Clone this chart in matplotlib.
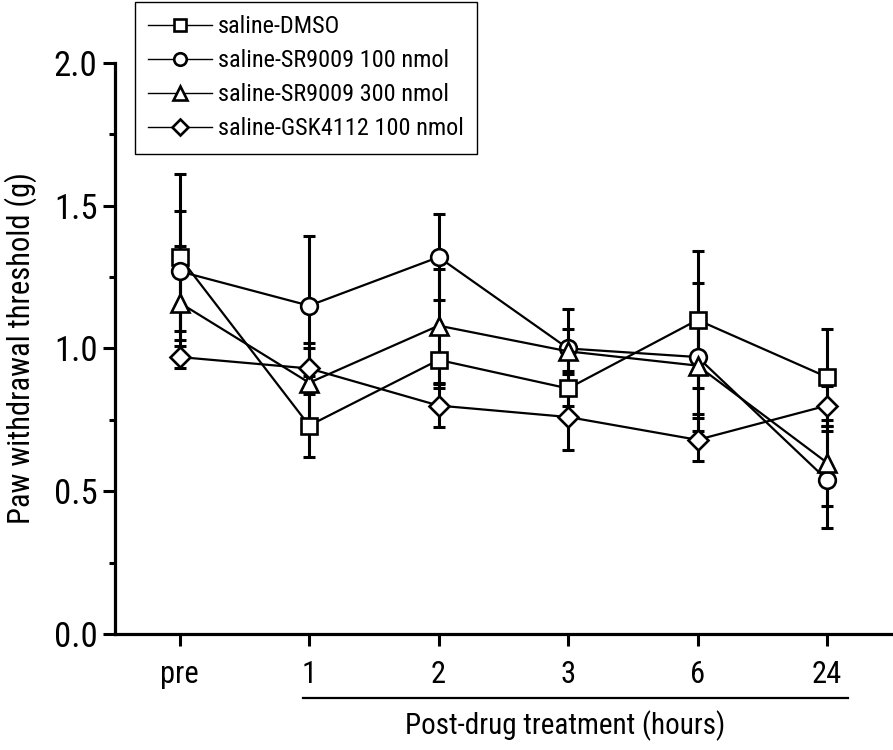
import matplotlib.pyplot as plt
from matplotlib import font_manager
from matplotlib.ticker import MultipleLocator
import matplotlib.transforms as mtransforms

# the original uses a condensed Arial-like face; fall back to a smaller Liberation Sans
installed = {f.name for f in font_manager.fontManager.ttflist}
condensed = [n for n in ["Liberation Sans Narrow", "Roboto Condensed", "DejaVu Sans Condensed"]
             if n in installed]
if condensed:
    plt.rcParams["font.family"] = [condensed[0], "DejaVu Sans"]
    fs = 1.0
else:
    plt.rcParams["font.family"] = ["Liberation Sans", "DejaVu Sans"]
    fs = 0.82

# %%
timepoints = ["pre", "1", "2", "3", "6", "24"]
groups = [
    "saline-DMSO",
    "saline-SR9009 100 nmol",
    "saline-SR9009 300 nmol",
    "saline-GSK4112 100 nmol",
]

dmso_mean = [1.32, 0.73, 0.96, 0.86, 1.10, 0.90]
dmso_err = [0.29, 0.11, 0.10, 0.06, 0.24, 0.17]
sr100_mean = [1.27, 1.15, 1.32, 1.00, 0.97, 0.54]
sr100_err = [0.21, 0.245, 0.15, 0.14, 0.26, 0.17]
sr300_mean = [1.16, 0.88, 1.08, 0.99, 0.94, 0.60]
sr300_err = [0.20, 0.14, 0.20, 0.08, 0.17, 0.15]
gsk_mean = [0.97, 0.93, 0.80, 0.76, 0.68, 0.80]
gsk_err = [0.04, 0.07, 0.075, 0.115, 0.075, 0.07]

means = [dmso_mean, sr100_mean, sr300_mean, gsk_mean]
errs = [dmso_err, sr100_err, sr300_err, gsk_err]
markers = ["s", "o", "^", "D"]
msizes = [11, 12, 13.5, 10.5]

# %%
fig = plt.figure(figsize=(8.93, 7.5), dpi=100)
ax = fig.add_axes([0.1288, 0.1547, 0.8712, 0.7613])
x = list(range(len(timepoints)))

for mean, err, mk, ms, label in zip(means, errs, markers, msizes, groups):
    ax.errorbar(x, mean, yerr=err, fmt="none", ecolor="black", elinewidth=2.2,
                capsize=4.5, capthick=2.2, zorder=2)
    ax.plot(x, mean, color="black", lw=1.6, marker=mk, ms=ms, mfc="white",
            mec="black", mew=1.9, label=label, zorder=3)

ax.set_xlim(-0.5, 5.51)
ax.set_ylim(0, 2.0)
ax.set_xticks(x)
ax.set_xticklabels(timepoints)
ax.yaxis.set_major_locator(MultipleLocator(0.5))
ax.yaxis.set_minor_locator(MultipleLocator(0.25))
ax.yaxis.set_major_formatter(plt.FormatStrFormatter("%.1f"))

for side in ["top", "right"]:
    ax.spines[side].set_visible(False)
for side in ["left", "bottom"]:
    ax.spines[side].set_linewidth(2.3)

ax.tick_params(axis="y", which="major", length=8.6, width=2.2, labelsize=25 * fs, pad=4)
ax.tick_params(axis="y", which="minor", length=4.5, width=2.2)
ax.tick_params(axis="x", which="major", length=8.6, width=2.2, labelsize=22 * fs, pad=10)
ax.set_ylabel("Paw withdrawal threshold (g)", fontsize=22 * fs)
ax.yaxis.set_label_coords(-0.1, 0.50)

# bracket under post-drug timepoints
trans = mtransforms.blended_transform_factory(ax.transData, ax.transAxes)
ax.plot([0.95, 5.16], [-0.112, -0.112], color="black", lw=1.6, transform=trans,
        clip_on=False)
ax.text(2.975, -0.161, "Post-drug treatment (hours)", transform=trans,
        fontsize=21 * fs, ha="center", va="center")

leg = ax.legend(loc="upper left", bbox_to_anchor=(135 / 893, 1 - 2 / 750),
                bbox_transform=fig.transFigure, borderaxespad=0, fontsize=17.5 * fs,
                handlelength=2.6, handletextpad=0.25, labelspacing=0.45, numpoints=1,
                fancybox=False, edgecolor="black", framealpha=1, borderpad=0.55,
                markerscale=0.75)
leg.get_frame().set_linewidth(1.0)
for h in leg.get_lines():
    h.set_linewidth(1.0)

plt.savefig("out.png", dpi=100)
